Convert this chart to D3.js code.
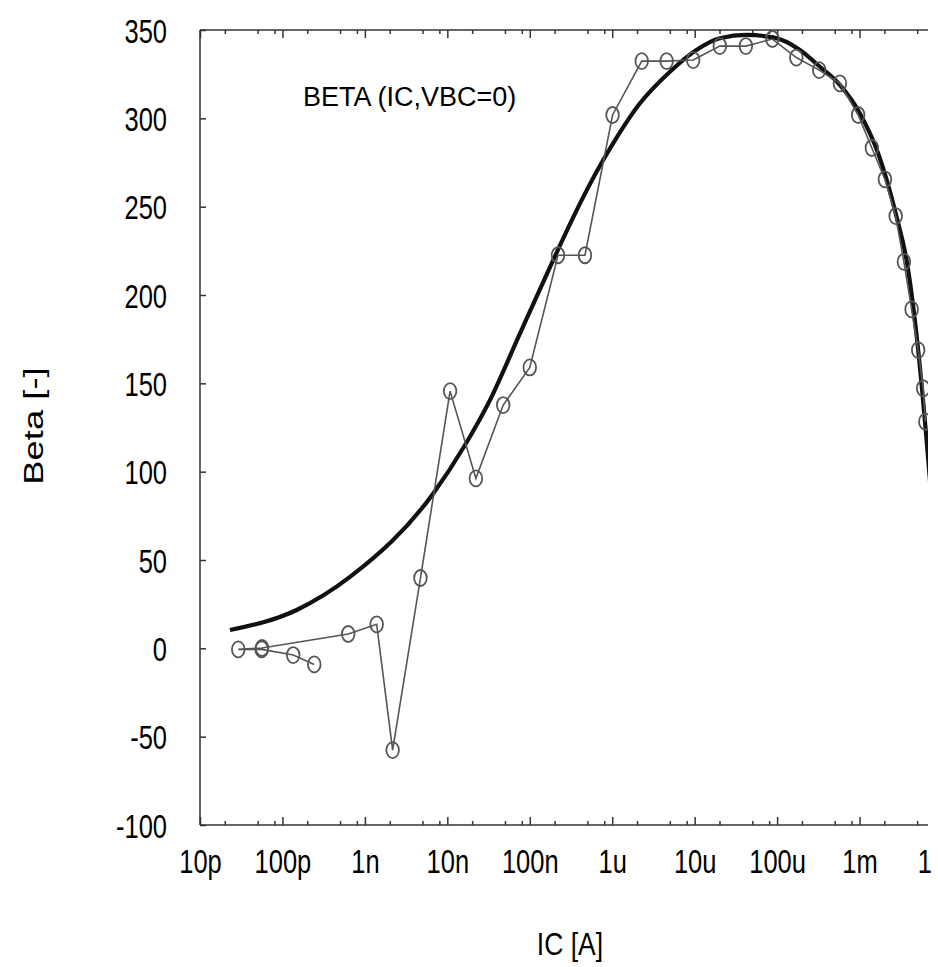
<!DOCTYPE html>
<html>
<head>
<meta charset="utf-8">
<script src="https://cdn.jsdelivr.net/npm/d3@7/dist/d3.min.js"></script>
<style>
  html, body { margin: 0; padding: 0; background: #fff; overflow: hidden; }
  svg { display: block; }
  text { font-family: "Liberation Sans", Arial, sans-serif; fill: #000; }
</style>
</head>
<body>
<svg id="chart" width="938" height="967"></svg>
<script>
// ---- data ----
const xTickValues = [1e-11, 1e-10, 1e-9, 1e-8, 1e-7, 1e-6, 1e-5, 1e-4, 1e-3, 1e-2];
// last label (10m) is cut by the picture edge: only its leading "1" shows
const xTickLabels = ["10p", "100p", "1n", "10n", "100n", "1u", "10u", "100u", "1m", "1"];
const yTickValues = [-100, -50, 0, 50, 100, 150, 200, 250, 300, 350];

// measured data (in measurement order)
const measIC = [2.43e-10, 1.35e-10, 5.6e-11, 2.91e-11, 5.65e-11, 6.28e-10, 1.39e-9, 2.17e-9, 4.72e-9,
  1.08e-8, 2.22e-8, 4.76e-8, 1.0e-7, 2.2e-7, 4.67e-7, 1.01e-6, 2.28e-6, 4.57e-6, 9.6e-6,
  2.02e-5, 4.18e-5, 8.77e-5, 1.71e-4, 3.24e-4, 5.77e-4, 9.62e-4, 1.41e-3, 2.03e-3, 2.74e-3,
  3.45e-3, 4.28e-3, 5.14e-3, 5.92e-3, 6.28e-3];
const measBeta = [-9.1, -3.8, -0.6, -0.6, 0.2, 8.1, 13.6, -57.6, 39.8,
  145.6, 96.2, 137.7, 159, 222.5, 222.5, 301.9, 332.4, 332.4, 333,
  340.9, 340.9, 344.9, 334.4, 327.3, 319.8, 301.9, 283.2, 265.5, 244.7,
  218.8, 191.9, 168.8, 147.2, 128.3];

// model fit curve
const fitIC = [2.31e-11, 1.49e-10, 6.59e-10, 6.75e-9, 1.64e-8, 3.29e-8, 7.96e-8, 7.78e-7, 2.17e-6,
  5.01e-6, 1.05e-5, 2.02e-5, 4.27e-5, 8.97e-5, 1.89e-4, 3.30e-4, 5.77e-4, 1.01e-3, 1.68e-3,
  2.81e-3, 3.75e-3, 5.14e-3, 6.55e-3, 7.24e-3];
const fitBeta = [10.4, 21.7, 40.4, 87.7, 115.1, 140.5, 180.3, 276.4, 308.5,
  326.4, 338.7, 345.3, 347.2, 345.8, 338.7, 329.2, 318.9, 302.8, 280.2,
  244.3, 218.7, 168.8, 116.2, 92];

// ---- layout ----
const L = 200, R = 942, T = 30, B = 825;
const EDGE = 928; // the picture is cut here
const svg = d3.select("#chart");

const x = d3.scaleLog().domain([1e-11, 1e-2]).range([L, R]);
const y = d3.scaleLinear().domain([-100, 350]).range([B, T]);

// minor ticks at 2,5,8 of each decade (only those inside the visible part)
const minorTicks = [];
xTickValues.slice(0, -1).forEach(v => [2, 5, 8].forEach(m => minorTicks.push(v * m)));
const minorVisible = minorTicks.filter(v => x(v) <= EDGE);
const majorVisible = xTickValues.filter(v => x(v) <= EDGE);

const axisColor = "#333";
const idxOf = d => xTickValues.findIndex(v => Math.abs(v / d - 1) < 1e-6);
const fmtX = d => xTickLabels[idxOf(d)];

// bottom axis (major with labels)
const gxB = svg.append("g").attr("transform", `translate(0,${B})`)
  .call(d3.axisBottom(x).tickValues(xTickValues).tickFormat(fmtX).tickSizeInner(-8).tickSizeOuter(0));
gxB.select(".domain").remove();
gxB.selectAll("line").attr("stroke", axisColor).attr("stroke-width", 1.5)
  .attr("display", d => x(d) <= EDGE ? null : "none");
gxB.selectAll("text")
  .attr("y", 0).attr("dy", null)
  .attr("transform", "translate(0,47.5) scale(1,1.33)")
  .style("font-size", "25.5px").style("font-family", "'Liberation Sans', Arial, sans-serif")
  .attr("fill", "#000");
// the cut "10m" label: place its visible "1" where it would start
gxB.selectAll("text").filter(d => idxOf(d) === xTickValues.length - 1)
  .attr("text-anchor", "start").attr("x", -24.8);

// bottom minor
const gxBm = svg.append("g").attr("transform", `translate(0,${B})`)
  .call(d3.axisBottom(x).tickValues(minorVisible).tickFormat("").tickSizeInner(-4).tickSizeOuter(0));
gxBm.select(".domain").remove();
gxBm.selectAll("line").attr("stroke", axisColor).attr("stroke-width", 1.5);

// top axis ticks
const gxT = svg.append("g").attr("transform", `translate(0,${T})`)
  .call(d3.axisTop(x).tickValues(majorVisible).tickFormat("").tickSizeInner(-8).tickSizeOuter(0));
gxT.select(".domain").remove();
gxT.selectAll("line").attr("stroke", axisColor).attr("stroke-width", 1.5);
const gxTm = svg.append("g").attr("transform", `translate(0,${T})`)
  .call(d3.axisTop(x).tickValues(minorVisible).tickFormat("").tickSizeInner(-4).tickSizeOuter(0));
gxTm.select(".domain").remove();
gxTm.selectAll("line").attr("stroke", axisColor).attr("stroke-width", 1.5);

// left axis
const gy = svg.append("g").attr("transform", `translate(${L},0)`)
  .call(d3.axisLeft(y).tickValues(yTickValues).tickFormat(d => String(d)).tickSizeInner(-6).tickSizeOuter(0));
gy.select(".domain").remove();
gy.selectAll("line").attr("stroke", axisColor).attr("stroke-width", 1.5);
gy.selectAll("text")
  .attr("x", 0).attr("dy", null)
  .attr("text-anchor", "end")
  .attr("transform", "translate(-33,12.3) scale(1,1.33)")
  .style("font-size", "25.5px").style("font-family", "'Liberation Sans', Arial, sans-serif")
  .attr("fill", "#000");

// frame lines
svg.append("line").attr("x1", L).attr("x2", L).attr("y1", T).attr("y2", B)
  .attr("stroke", axisColor).attr("stroke-width", 1.5);
svg.append("line").attr("x1", L).attr("x2", EDGE).attr("y1", T).attr("y2", T)
  .attr("stroke", axisColor).attr("stroke-width", 1.5);
svg.append("line").attr("x1", L).attr("x2", EDGE).attr("y1", B).attr("y2", B)
  .attr("stroke", axisColor).attr("stroke-width", 1.5);

// clip for plot content
svg.append("clipPath").attr("id", "plotclip")
  .append("rect").attr("x", L).attr("y", T - 12).attr("width", EDGE - L).attr("height", B - T + 12);

const plot = svg.append("g").attr("clip-path", "url(#plotclip)");

// fit curve
const fitData = fitIC.map((v, i) => [v, fitBeta[i]]);
plot.append("path")
  .datum(fitData)
  .attr("fill", "none")
  .attr("stroke", "#111")
  .attr("stroke-width", 4.2)
  .attr("stroke-linejoin", "round")
  .attr("d", d3.line().x(d => x(d[0])).y(d => y(d[1])).curve(d3.curveMonotoneX));

// measured line
const measData = measIC.map((v, i) => [v, measBeta[i]]);
plot.append("path")
  .datum(measData)
  .attr("fill", "none")
  .attr("stroke", "#555")
  .attr("stroke-width", 1.6)
  .attr("d", d3.line().x(d => x(d[0])).y(d => y(d[1])));

plot.selectAll("ellipse.m")
  .data(measData)
  .join("ellipse")
  .attr("class", "m")
  .attr("cx", d => x(d[0]))
  .attr("cy", d => y(d[1]))
  .attr("rx", 6.3)
  .attr("ry", 8)
  .attr("fill", "none")
  .attr("stroke", "#555")
  .attr("stroke-width", 1.8);

// title inside plot
svg.append("text")
  .attr("x", 303).attr("y", 106)
  .style("font-size", "27px")
  .text("BETA (IC,VBC=0)");

// axis titles
svg.append("text")
  .attr("text-anchor", "middle")
  .attr("transform", "translate(570,955) scale(1,1.2)")
  .style("font-size", "26.5px")
  .text("IC [A]");

svg.append("text")
  .attr("text-anchor", "middle")
  .attr("transform", "translate(43,426) rotate(-90) scale(1.3,1)")
  .style("font-size", "28px")
  .text("Beta [-]");
</script>
</body>
</html>
